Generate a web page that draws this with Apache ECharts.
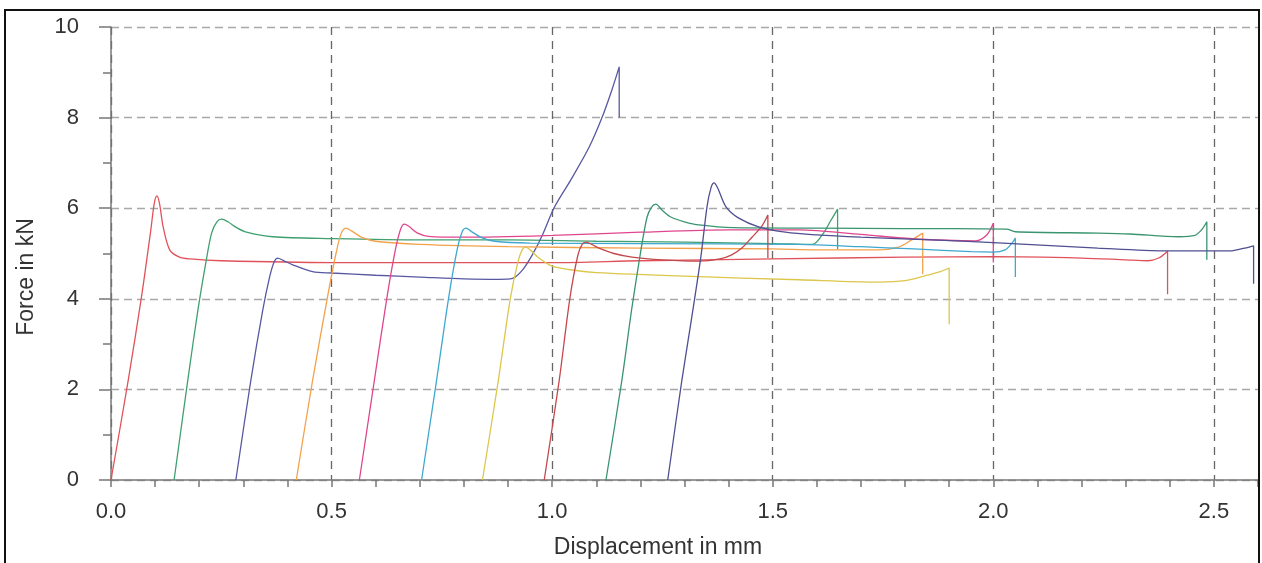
<!DOCTYPE html>
<html>
<head>
<meta charset="utf-8">
<script src="https://cdn.jsdelivr.net/npm/echarts@6/dist/echarts.min.js"></script>
<style>
  html, body { margin: 0; padding: 0; background: #fff; }
  #chart { width: 1262px; height: 563px; }
</style>
</head>
<body>
<div id="chart"></div>
<script>
// axis ticks
const xTicks = [0, 0.5, 1.0, 1.5, 2.0, 2.5]
const yTicks = [0, 2, 4, 6, 8, 10]

// each specimen: [displacement mm, force kN]
const red = [[0,0],[0.039,2.2],[0.07,4.1],[0.09,5.5],[0.098,6.1],[0.104,6.27],[0.11,6.1],[0.118,5.6],[0.133,5.08],[0.155,4.92],[0.18,4.88],[0.25,4.84],[0.5,4.8],[0.8,4.8],[1.0,4.8],[1.2,4.84],[1.5,4.88],[1.8,4.92],[2.0,4.93],[2.2,4.9],[2.3,4.86],[2.35,4.84],[2.375,4.9],[2.395,5.05],[2.395,4.1]]
const green1 = [[0.143,0],[0.174,2.2],[0.197,3.75],[0.215,4.8],[0.228,5.45],[0.24,5.7],[0.251,5.76],[0.265,5.7],[0.285,5.57],[0.307,5.47],[0.367,5.37],[0.5,5.33],[0.7,5.3],[0.9,5.3],[1.1,5.27],[1.3,5.25],[1.5,5.22],[1.59,5.2],[1.615,5.45],[1.63,5.7],[1.647,5.98],[1.647,5.1]]
const navy1 = [[0.283,0],[0.317,2.2],[0.344,3.75],[0.36,4.5],[0.37,4.82],[0.378,4.9],[0.39,4.85],[0.412,4.75],[0.457,4.6],[0.5,4.57],[0.6,4.52],[0.7,4.48],[0.8,4.44],[0.88,4.43],[0.91,4.45],[0.933,4.64],[0.955,4.97],[0.978,5.41],[1.005,6.02],[1.042,6.62],[1.084,7.35],[1.113,8.0],[1.135,8.6],[1.152,9.12],[1.152,8.0]]
const orange = [[0.42,0],[0.457,2.2],[0.49,4.0],[0.51,5.0],[0.522,5.45],[0.532,5.56],[0.545,5.5],[0.57,5.35],[0.6,5.27],[0.7,5.2],[0.9,5.15],[1.2,5.12],[1.5,5.1],[1.6,5.08],[1.74,5.08],[1.785,5.14],[1.815,5.3],[1.84,5.45],[1.84,4.55]]
const magenta = [[0.563,0],[0.597,2.2],[0.625,4.0],[0.645,5.1],[0.657,5.55],[0.665,5.65],[0.675,5.6],[0.695,5.45],[0.72,5.38],[0.8,5.36],[1.0,5.4],[1.2,5.47],[1.4,5.52],[1.56,5.52],[1.7,5.42],[1.823,5.32],[1.96,5.28],[1.985,5.41],[2.0,5.67],[2.0,4.8]]
const cyan = [[0.704,0],[0.738,2.2],[0.765,4.0],[0.785,5.1],[0.797,5.5],[0.805,5.56],[0.815,5.5],[0.84,5.35],[0.87,5.27],[0.95,5.23],[1.2,5.22],[1.56,5.2],[1.7,5.15],[1.82,5.1],[1.95,5.04],[2.0,5.03],[2.027,5.08],[2.04,5.2],[2.05,5.34],[2.05,4.48]]
const yellow = [[0.842,0],[0.878,2.2],[0.905,4.0],[0.922,4.8],[0.932,5.08],[0.94,5.14],[0.95,5.08],[0.97,4.9],[1.0,4.72],[1.05,4.63],[1.1,4.58],[1.3,4.5],[1.56,4.42],[1.74,4.37],[1.8,4.4],[1.85,4.52],[1.88,4.6],[1.9,4.68],[1.9,3.44]]
const darkRed = [[0.982,0],[1.016,2.2],[1.04,4.0],[1.058,4.95],[1.068,5.2],[1.077,5.25],[1.09,5.2],[1.106,5.12],[1.14,5.0],[1.181,4.92],[1.25,4.86],[1.333,4.83],[1.38,4.88],[1.407,4.97],[1.43,5.12],[1.453,5.36],[1.475,5.6],[1.489,5.85],[1.489,4.9]]
const green2 = [[1.122,0],[1.158,2.2],[1.18,3.75],[1.2,5.0],[1.215,5.8],[1.225,6.02],[1.235,6.09],[1.25,5.95],[1.27,5.8],[1.3,5.7],[1.333,5.63],[1.41,5.57],[1.6,5.56],[1.8,5.55],[2.03,5.54],[2.05,5.48],[2.237,5.45],[2.31,5.43],[2.42,5.37],[2.457,5.4],[2.472,5.52],[2.484,5.7],[2.484,4.86]]
const navy2 = [[1.262,0],[1.294,2.2],[1.315,3.5],[1.337,4.92],[1.351,6.03],[1.36,6.45],[1.367,6.56],[1.375,6.45],[1.394,6.03],[1.423,5.78],[1.468,5.59],[1.529,5.47],[1.6,5.41],[1.7,5.36],[1.86,5.3],[2.0,5.24],[2.237,5.12],[2.39,5.06],[2.54,5.06],[2.57,5.12],[2.59,5.17],[2.59,4.33]]

const curves = [
  { data: red, color: '#e0525a' },
  { data: green1, color: '#3f9f6f' },
  { data: navy1, color: '#5858a2' },
  { data: orange, color: '#f3a24a' },
  { data: magenta, color: '#e0468e' },
  { data: cyan, color: '#3ea8cf' },
  { data: yellow, color: '#dcc64c' },
  { data: darkRed, color: '#c4484c' },
  { data: green2, color: '#3a9470' },
  { data: navy2, color: '#4f4f92' }
]

const font = 'Liberation Sans, Arial, sans-serif'
const myChart = echarts.init(document.getElementById('chart'))

const series = curves.map((c) => ({
  type: 'line',
  xAxisIndex: 0,
  data: c.data,
  showSymbol: false,
  symbol: 'none',
  silent: true,
  // soften the corners of the hand-read points
  smooth: 0.3,
  lineStyle: { color: c.color, width: 1.3 }
}))

const options = {
  animation: false,
  backgroundColor: '#fff',
  grid: { left: 111, right: 4, top: 27, bottom: 83 },
  xAxis: [
    {
      // minor ticks every 0.1 mm
      type: 'value',
      min: 0,
      max: 2.6,
      interval: 0.1,
      position: 'bottom',
      axisLine: { show: true, lineStyle: { color: '#777', width: 1.5 } },
      axisTick: { show: true, length: 7, lineStyle: { color: '#777', width: 1.5 } },
      axisLabel: { show: false },
      splitLine: { show: false }
    },
    {
      // labels + dashed grid every 0.5 mm
      type: 'value',
      min: 0,
      max: 2.6,
      interval: 0.5,
      position: 'bottom',
      axisLine: { show: false },
      axisTick: { show: false },
      axisLabel: {
        show: true,
        margin: 21,
        fontSize: 22,
        fontFamily: font,
        color: '#333',
        showMaxLabel: false,
        formatter: (v) => (xTicks.includes(Math.round(v * 10) / 10) ? v.toFixed(1) : '')
      },
      splitLine: {
        show: true,
        showMinLine: true,
        showMaxLine: false,
        lineStyle: { color: '#666', type: [8, 6], width: 1.3 }
      }
    }
  ],
  yAxis: {
    type: 'value',
    min: 0,
    max: 10,
    interval: 2,
    offset: 7,
    axisLine: { show: true, lineStyle: { color: '#777', width: 1.5 } },
    axisTick: { show: true, length: 12, lineStyle: { color: '#777', width: 1.5 } },
    minorTick: { show: true, splitNumber: 2, length: 8, lineStyle: { color: '#777', width: 1.5 } },
    axisLabel: {
      margin: 25,
      fontSize: 22,
      fontFamily: font,
      color: '#333',
      formatter: (v) => (yTicks.includes(v) ? String(v) : '')
    },
    splitLine: {
      show: true,
      lineStyle: { color: '#a8a8a8', type: [8, 5], width: 1.3 }
    }
  },
  graphic: [
    {
      type: 'rect',
      silent: true,
      shape: { x: 5, y: 10, width: 1254, height: 570 },
      style: { fill: 'none', stroke: '#111', lineWidth: 2 },
      z: 100
    },
    {
      type: 'text',
      silent: true,
      x: 658,
      y: 548,
      style: {
        text: 'Displacement in mm',
        font: '23px ' + font,
        fill: '#333',
        textAlign: 'center',
        textVerticalAlign: 'middle'
      }
    },
    {
      type: 'text',
      silent: true,
      x: 27,
      y: 277,
      rotation: Math.PI / 2,
      style: {
        text: 'Force in kN',
        font: '23px ' + font,
        fill: '#333',
        textAlign: 'center',
        textVerticalAlign: 'middle'
      }
    }
  ],
  series: series
}
myChart.setOption(options)
</script>
</body>
</html>
